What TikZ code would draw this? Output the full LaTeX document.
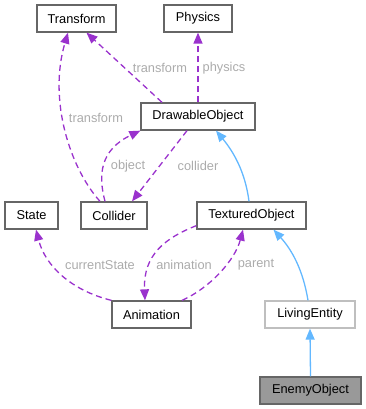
\documentclass[tikz,border=0pt]{standalone}
\usepackage{fontspec}
\setmainfont{Liberation Sans}
\usetikzlibrary{arrows.meta}
\definecolor{edgepurple}{HTML}{9A32CD}
\definecolor{edgeblue}{HTML}{63B8FF}
\definecolor{boxborder}{HTML}{666666}
\definecolor{lightborder}{HTML}{BFBFBF}
\definecolor{labelgray}{HTML}{ABABAB}
\definecolor{selfill}{HTML}{999999}
\tikzset{
  cls/.style={draw=boxborder, line width=1.3pt, fill=white, rectangle,
    minimum height=27pt, inner sep=0pt, font=\fontsize{12.8}{15}\selectfont},
  usage/.style={draw=edgepurple, line width=1.3pt, dash pattern=on 6pt off 4pt,
    -{Triangle[length=11pt,width=9pt]}},
  inherit/.style={draw=edgeblue, line width=1.3pt,
    -{Triangle[length=11pt,width=9pt]}},
  elabel/.style={text=labelgray, font=\fontsize{12.8}{15}\selectfont, inner sep=1pt}
}
\begin{document}
\begin{tikzpicture}[x=1pt,y=-1pt]
  \useasboundingbox (0,0) rectangle (366,409);

  % classes
  \node[cls, minimum width=79pt]  (tr)  at (76.5,18.5)  {Transform};
  \node[cls, minimum width=68pt]  (ph)  at (198,18.5)   {Physics};
  \node[cls, minimum width=114pt] (do)  at (198,116.5)  {DrawableObject};
  \node[cls, minimum width=53pt]  (st)  at (31.5,215.5) {State};
  \node[cls, minimum width=66pt]  (col) at (114,215.5)  {Collider};
  \node[cls, minimum width=109pt] (tex) at (251.5,215.5) {TexturedObject};
  \node[cls, minimum width=79pt]  (an)  at (151.5,314.5) {Animation};
  \node[cls, minimum width=90pt, draw=lightborder] (liv) at (310,314.5) {LivingEntity};
  \node[cls, minimum width=101pt, fill=selfill] (en) at (310.5,390.5) {EnemyObject};

  % inheritance
  \draw[inherit] ([xshift=-2.5pt]tex.north) .. controls (245,170) and (232,150) .. ([xshift=18pt]do.south);
  \draw[inherit] ([xshift=-2pt]liv.north) .. controls (303,270) and (292,250) .. ([xshift=22pt]tex.south);
  \draw[inherit] (en.north) -- (liv.south);

  % usage relations
  \draw[usage] ([xshift=-36pt]do.north) -- ([xshift=10pt]tr.south);
  \draw[usage] (do.north) -- (ph.south);
  \draw[usage] ([xshift=-14pt]col.north) .. controls (70,168) and (48,100) .. ([xshift=-8.5pt]tr.south);
  \draw[usage] ([xshift=-9pt]col.north) .. controls (98,175) and (100,150) .. (do.south west);
  \draw[usage] ([xshift=-11pt]do.south) -- ([xshift=18pt]col.north);
  \draw[usage] (an.north west) .. controls (70,290) and (45,265) .. ([xshift=4.5pt]st.south);
  \draw[usage] ([yshift=4pt]tex.south west) .. controls (165,238) and (143,255) .. ([xshift=-6.5pt]an.north);
  \draw[usage] ([xshift=30.5pt]an.north) .. controls (210,288) and (235,260) .. ([xshift=-8.5pt]tex.south);

  % relation labels
  \node[elabel] (l1) at (160,68)  {transform};
  \node[elabel] (l2) at (224,68)  {physics};
  \node[elabel] (l3) at (96,118)  {transform};
  \node[elabel] (l4) at (128,166) {object};
  \node[elabel] (l5) at (198,166) {collider};
  \node[elabel] (l6) at (100,265) {currentState};
  \node[elabel] (l7) at (184,265) {animation};
  \node[elabel] (l8) at (256,265) {parent};
\end{tikzpicture}
\end{document}
